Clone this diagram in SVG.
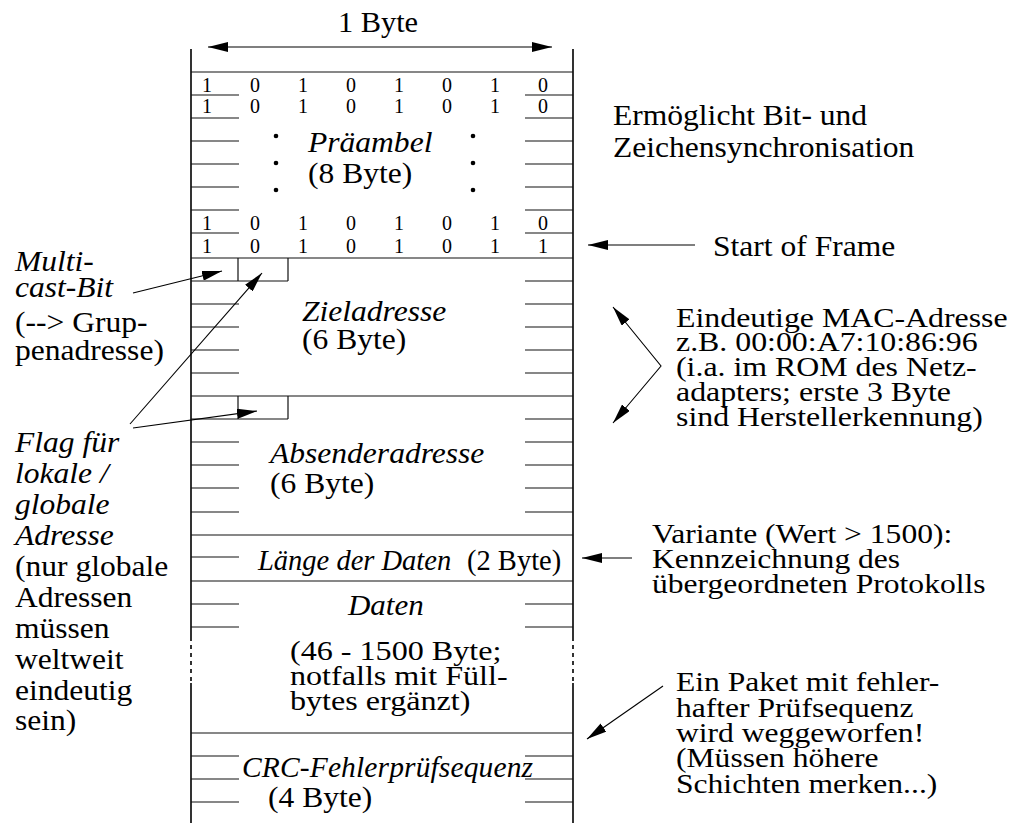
<svg xmlns="http://www.w3.org/2000/svg" width="1011" height="823" viewBox="0 0 1011 823">
<style>
text{font-family:"Liberation Serif","Times New Roman",serif;font-size:29.5px;fill:#000}
.i{font-style:italic}
.s{font-size:27px}
.b{font-size:20px;text-anchor:middle}
.ln{stroke:#111;stroke-width:1.2;fill:none}
.fr{stroke:#000;stroke-width:1.6;fill:none}
.ar{stroke:#000;stroke-width:1.1;fill:none;marker-end:url(#ah)}
.dot{fill:#000}
</style>
<defs>
<marker id="ah" viewBox="0 0 20 10" refX="20" refY="5" markerWidth="20" markerHeight="10" markerUnits="userSpaceOnUse" orient="auto-start-reverse">
<path d="M0,0 L20,5 L0,10 z" fill="#000"/>
</marker>
</defs>

<g id="frame">
<path class="fr" d="M191,49 V637 M191,683 V823 M573,49 V637 M573,683 V823"/>
<path class="fr" d="M191,637 V683 M573,637 V683" stroke-dasharray="4 4"/>
<path class="ln" d="M191,72 H573 M191,258 H573 M191,396 H573 M191,535 H573 M191,581 H573 M191,733 H573"/>
</g>

<g id="byte-width">
<text transform="matrix(1.03 0 0 1 378 32)" text-anchor="middle">1 Byte</text>
</g>

<g id="preamble">
<path class="ln" d="M191,95 H239 M525,95 H573 M191,118 H239 M525,118 H573 M191,141 H239 M525,141 H573 M191,164 H239 M525,164 H573 M191,187 H239 M525,187 H573 M191,210 H239 M525,210 H573 M191,233 H239 M525,233 H573"/>
<text class="b" y="92"><tspan x="207">1</tspan><tspan x="255">0</tspan><tspan x="303">1</tspan><tspan x="351">0</tspan><tspan x="399">1</tspan><tspan x="447">0</tspan><tspan x="495">1</tspan><tspan x="543">0</tspan></text>
<text class="b" y="113"><tspan x="207">1</tspan><tspan x="255">0</tspan><tspan x="303">1</tspan><tspan x="351">0</tspan><tspan x="399">1</tspan><tspan x="447">0</tspan><tspan x="495">1</tspan><tspan x="543">0</tspan></text>
<text class="b" y="230"><tspan x="207">1</tspan><tspan x="255">0</tspan><tspan x="303">1</tspan><tspan x="351">0</tspan><tspan x="399">1</tspan><tspan x="447">0</tspan><tspan x="495">1</tspan><tspan x="543">0</tspan></text>
<text class="b" y="253"><tspan x="207">1</tspan><tspan x="255">0</tspan><tspan x="303">1</tspan><tspan x="351">0</tspan><tspan x="399">1</tspan><tspan x="447">0</tspan><tspan x="495">1</tspan><tspan x="543">1</tspan></text>
<circle class="dot" cx="276" cy="136" r="2.3"/><circle class="dot" cx="276" cy="163" r="2.3"/><circle class="dot" cx="276" cy="190" r="2.3"/>
<circle class="dot" cx="473" cy="136" r="2.3"/><circle class="dot" cx="473" cy="163" r="2.3"/><circle class="dot" cx="473" cy="190" r="2.3"/>
<text class="i" transform="matrix(1.07 0 0 1 308 152)">Präambel</text>
<text transform="matrix(1.07 0 0 1 308 183)">(8 Byte)</text>
</g>

<g id="dest">
<path class="ln" d="M191,281 H288 M238,258 V281 M288,258 V281 M525,281 H573 M191,304 H239 M525,304 H573 M191,327 H239 M525,327 H573 M191,350 H239 M525,350 H573 M191,373 H239 M525,373 H573"/>
<text class="i" transform="matrix(1.07 0 0 1 302 321)">Zieladresse</text>
<text transform="matrix(1.07 0 0 1 302 349)">(6 Byte)</text>
</g>

<g id="src">
<path class="ln" d="M191,419 H288 M238,396 V419 M288,396 V419 M525,419 H573 M191,442 H239 M525,442 H573 M191,465 H239 M525,465 H573 M191,488 H239 M525,488 H573 M191,512 H239 M525,512 H573"/>
<text class="i" transform="matrix(1.07 0 0 1 270 463)">Absenderadresse</text>
<text transform="matrix(1.07 0 0 1 270 493)">(6 Byte)</text>
</g>

<g id="length">
<path class="ln" d="M191,557 H239"/>
<text class="i" x="258" y="570" style="font-size:28.5px">Länge der Daten</text>
<text x="467" y="570" style="font-size:28.5px">(2 Byte)</text>
</g>

<g id="data">
<path class="ln" d="M191,604 H239 M525,604 H573 M191,627 H239 M525,627 H573"/>
<text class="i" transform="matrix(1.05 0 0 1 348 615)">Daten</text>
<text class="s" transform="matrix(1.19 0 0 1 290 660)">(46 - 1500 Byte;</text>
<text class="s" transform="matrix(1.19 0 0 1 290 685)">notfalls mit Füll-</text>
<text class="s" transform="matrix(1.19 0 0 1 290 710)">bytes ergänzt)</text>
</g>

<g id="crc">
<path class="ln" d="M191,756 H239 M525,756 H573 M191,779 H239 M525,779 H573 M191,802 H239 M525,802 H573"/>
<text class="i" x="242" y="777" textLength="291" lengthAdjust="spacing">CRC-Fehlerprüfsequenz</text>
<text transform="matrix(1.07 0 0 1 268 807)">(4 Byte)</text>
</g>

<g id="note-multicast">
<text class="i" transform="matrix(1.07 0 0 1 15 271)">Multi-</text>
<text class="i" transform="matrix(1.07 0 0 1 15 297)">cast-Bit</text>
<text transform="matrix(1.07 0 0 1 15 332)">(--&gt; Grup-</text>
<text transform="matrix(1.07 0 0 1 15 360)">penadresse)</text>
</g>

<g id="note-flag">
<text class="i" transform="matrix(1.07 0 0 1 15 452)">Flag für</text>
<text class="i" transform="matrix(1.07 0 0 1 15 483)">lokale /</text>
<text class="i" transform="matrix(1.07 0 0 1 15 514)">globale</text>
<text class="i" transform="matrix(1.07 0 0 1 15 545)">Adresse</text>
<text transform="matrix(1.07 0 0 1 15 576)">(nur globale</text>
<text transform="matrix(1.07 0 0 1 15 607)">Adressen</text>
<text transform="matrix(1.07 0 0 1 15 638)">müssen</text>
<text transform="matrix(1.07 0 0 1 15 669)">weltweit</text>
<text transform="matrix(1.07 0 0 1 15 700)">eindeutig</text>
<text transform="matrix(1.07 0 0 1 15 730)">sein)</text>
</g>

<g id="note-sync">
<text transform="matrix(1.07 0 0 1 613 125)">Ermöglicht Bit- und</text>
<text transform="matrix(1.07 0 0 1 613 157)">Zeichensynchronisation</text>
</g>

<g id="note-sof">
<text transform="matrix(1.07 0 0 1 713 256)">Start of Frame</text>
</g>

<g id="note-mac">
<text class="s" transform="matrix(1.18 0 0 1 676 327)">Eindeutige MAC-Adresse</text>
<text class="s" transform="matrix(1.18 0 0 1 676 351)">z.B. 00:00:A7:10:86:96</text>
<text class="s" transform="matrix(1.18 0 0 1 676 376)">(i.a. im ROM des Netz-</text>
<text class="s" transform="matrix(1.18 0 0 1 676 401)">adapters; erste 3 Byte</text>
<text class="s" transform="matrix(1.18 0 0 1 676 426)">sind Herstellerkennung)</text>
</g>

<g id="note-type">
<text class="s" transform="matrix(1.17 0 0 1 652 543)">Variante (Wert &gt; 1500):</text>
<text class="s" transform="matrix(1.17 0 0 1 652 568)">Kennzeichnung des</text>
<text class="s" transform="matrix(1.17 0 0 1 652 593)">übergeordneten Protokolls</text>
</g>

<g id="note-crc">
<text class="s" transform="matrix(1.17 0 0 1 676 691)">Ein Paket mit fehler-</text>
<text class="s" transform="matrix(1.17 0 0 1 676 717)">hafter Prüfsequenz</text>
<text class="s" transform="matrix(1.17 0 0 1 676 742)">wird weggeworfen!</text>
<text class="s" transform="matrix(1.17 0 0 1 676 767)">(Müssen höhere</text>
<text class="s" transform="matrix(1.17 0 0 1 676 793)">Schichten merken...)</text>
</g>

<g id="connectors">
<path class="ar" d="M208,47 H552" style="marker-start:url(#ah)"/>
<path class="ar" d="M133,293 L222,271"/>
<path class="ar" d="M130,424 L262,273"/>
<path class="ar" d="M133,428 L257,411"/>
<path class="ar" d="M695,245 H588"/>
<path class="ar" d="M613,307 L661,366 L613,423" style="marker-start:url(#ah)"/>
<path class="ar" d="M632,558 H582"/>
<path class="ar" d="M663,686 L587,739"/>
</g>
</svg>
